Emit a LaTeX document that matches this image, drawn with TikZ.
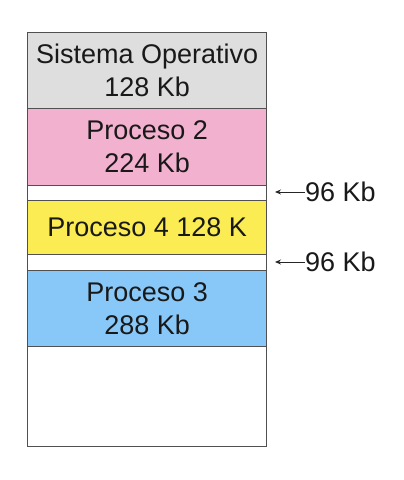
\documentclass[tikz,border=0pt]{standalone}
\usepackage{fontspec}
\setmainfont{Liberation Sans}
\usetikzlibrary{arrows.meta}
\definecolor{osgray}{HTML}{DEDEDE}
\definecolor{pinkp}{HTML}{F3B1D0}
\definecolor{yellowp}{HTML}{FAEC52}
\definecolor{bluep}{HTML}{88C8F8}
\definecolor{edgec}{HTML}{505050}
\begin{document}
\begin{tikzpicture}[x=1pt,y=-1pt,
  memblock/.style={draw=edgec,line width=1.3pt,anchor=north west,inner sep=0pt,
    minimum width=239pt,align=center,text=black!90,
    font=\fontsize{27}{33}\selectfont},
  lbl/.style={anchor=west,inner sep=0pt,text=black!90,font=\fontsize{27}{30}\selectfont},
  gaparrow/.style={draw=black!85,line width=0.9pt,-{Stealth[length=6pt,width=5pt]}}]
\useasboundingbox (0,0) rectangle (404,480);
\node[memblock,fill=osgray,minimum height=76pt] (so) at (27,32) {Sistema Operativo\\128 Kb};
\node[memblock,fill=pinkp,minimum height=77pt] (p2) at (27,108) {Proceso 2\\224 Kb};
\node[memblock,fill=white,minimum height=15pt] (g1) at (27,185) {};
\node[memblock,fill=yellowp,minimum height=54pt] (p4) at (27,200) {Proceso 4 128 K};
\node[memblock,fill=white,minimum height=16pt] (g2) at (27,254) {};
\node[memblock,fill=bluep,minimum height=76pt] (p3) at (27,270) {Proceso 3\\288 Kb};
\node[memblock,fill=white,minimum height=100pt] (fr) at (27,346) {};
\node[lbl] (l1) at (305,192) {96 Kb};
\node[lbl] (l2) at (305,262) {96 Kb};
\coordinate (a1) at (275,192);
\coordinate (a2) at (275,262);
\draw[gaparrow] (l1.west) -- (a1);
\draw[gaparrow] (l2.west) -- (a2);
\end{tikzpicture}
\end{document}
